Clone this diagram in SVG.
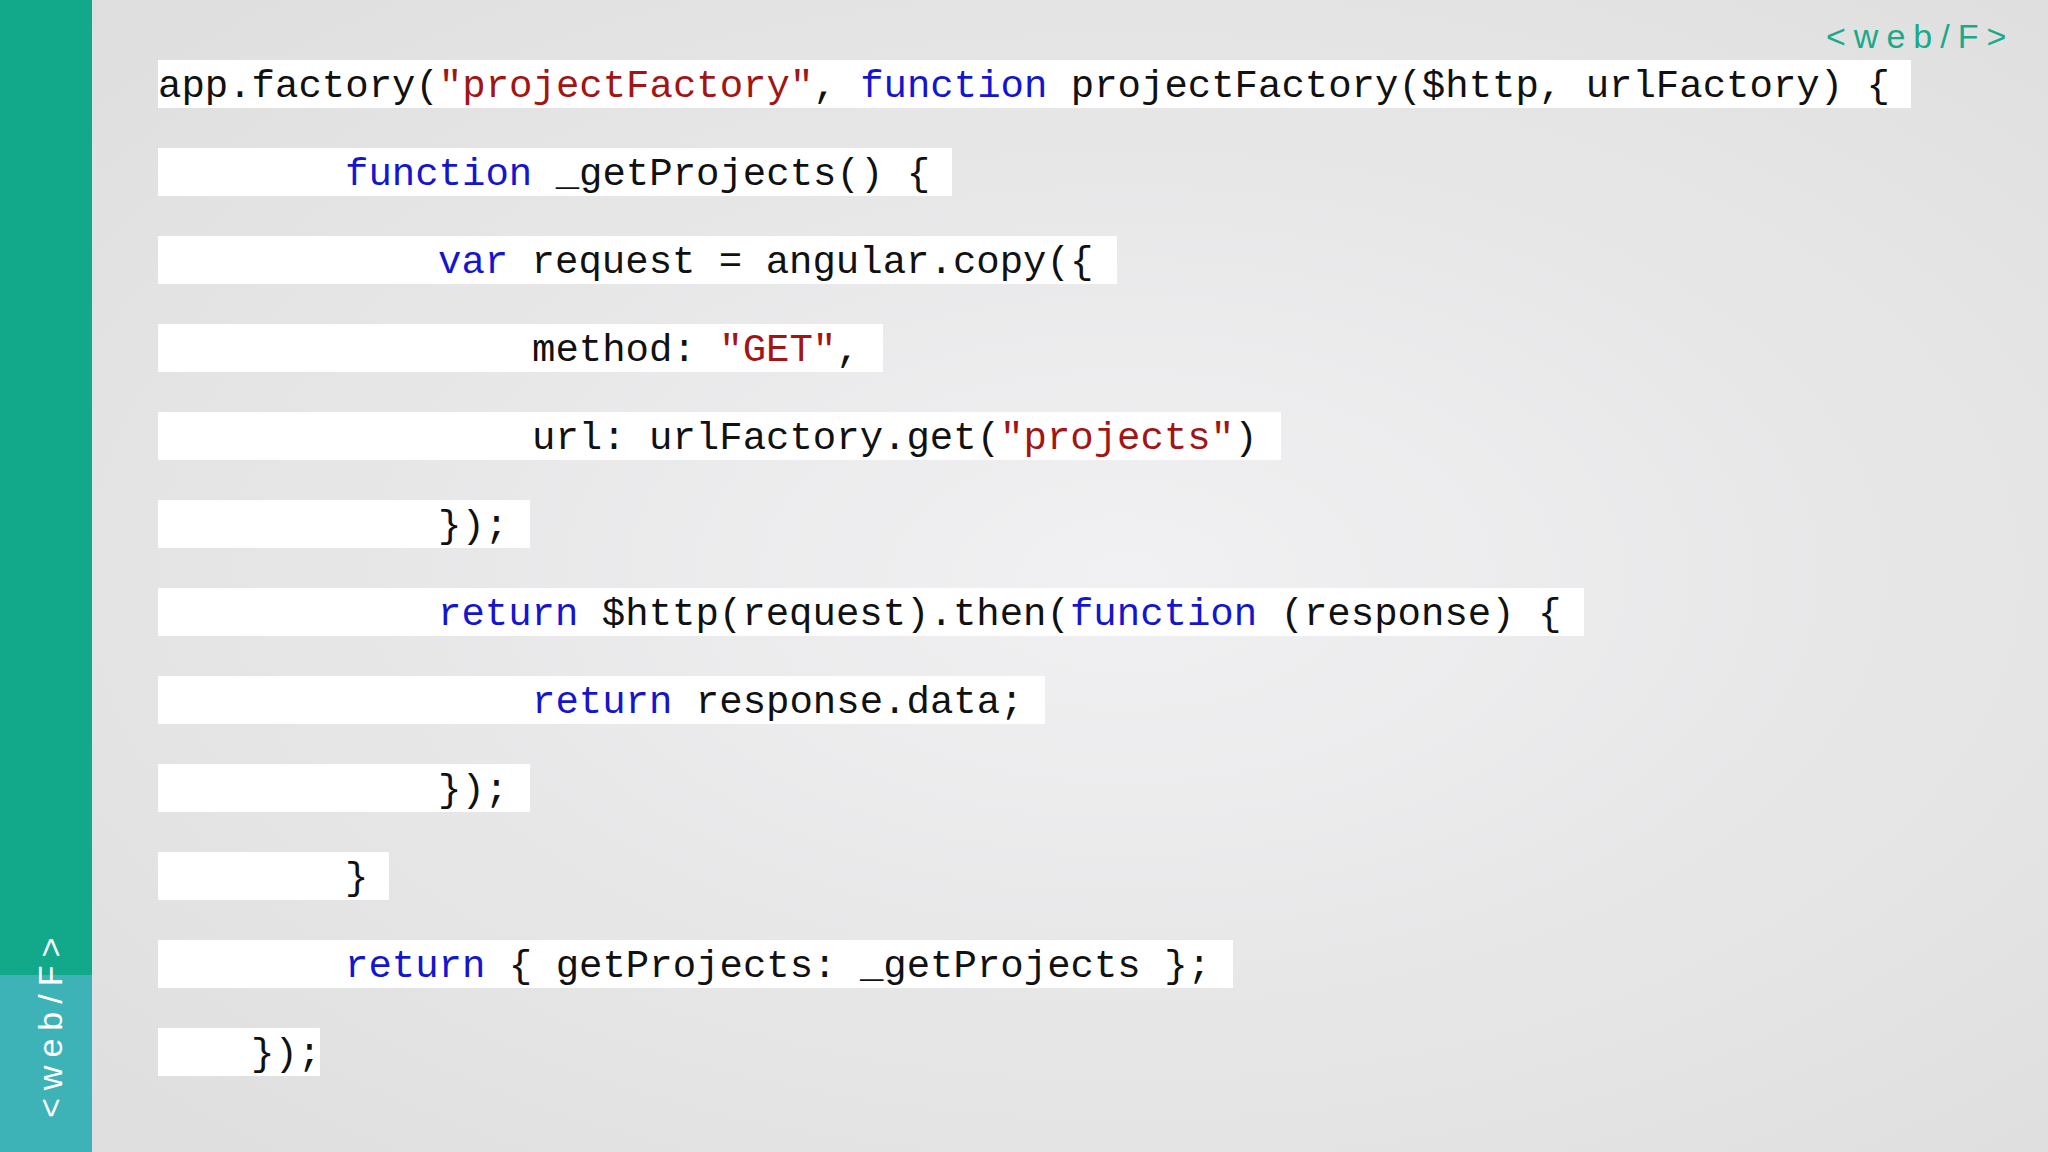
<svg xmlns="http://www.w3.org/2000/svg" width="2048" height="1152" viewBox="0 0 2048 1152">
<defs>
<radialGradient id="bg" cx="0.55" cy="0.5" r="0.8">
<stop offset="0" stop-color="#f1f0f2"/>
<stop offset="1" stop-color="#dcdcdc"/>
</radialGradient>
<style>
.hl{fill:#ffffff}
.c{font-family:"Liberation Mono","DejaVu Sans Mono",monospace;font-size:39px;fill:#111}
.k{fill:#1515d0}
.s{fill:#a31515}
.logo{font-family:"Liberation Sans","DejaVu Sans",sans-serif;font-size:34px;letter-spacing:8px}
</style>
</defs>
<rect width="2048" height="1152" fill="url(#bg)"/>
<g id="sidebar">
<rect x="0" y="0" width="92" height="975" fill="#12a98a"/>
<rect x="0" y="975" width="92" height="177" fill="#3db3b7"/>
<text class="logo" fill="#ffffff" transform="translate(62,1118) rotate(-90)">&lt;web/F&gt;</text>
</g>
<g id="logo-top">
<text class="logo" x="1826" y="48" fill="#1aaa8a">&lt;web/F&gt;</text>
</g>
<g id="highlights">
<rect class="hl" x="158" y="60" width="1753" height="48"/>
<rect class="hl" x="158" y="148" width="794" height="48"/>
<rect class="hl" x="158" y="236" width="959" height="48"/>
<rect class="hl" x="158" y="324" width="725" height="48"/>
<rect class="hl" x="158" y="412" width="1123" height="48"/>
<rect class="hl" x="158" y="500" width="372" height="48"/>
<rect class="hl" x="158" y="588" width="1426" height="48"/>
<rect class="hl" x="158" y="676" width="887" height="48"/>
<rect class="hl" x="158" y="764" width="372" height="48"/>
<rect class="hl" x="158" y="852" width="231" height="48"/>
<rect class="hl" x="158" y="940" width="1075" height="48"/>
<rect class="hl" x="158" y="1028" width="162" height="48"/>
</g>
<g id="code" class="c">
<text x="158" y="97">app.factory(<tspan class="s">"projectFactory"</tspan>, <tspan class="k">function</tspan> projectFactory($http, urlFactory) {</text>
<text x="345" y="185"><tspan class="k">function</tspan> _getProjects() {</text>
<text x="438" y="273"><tspan class="k">var</tspan> request = angular.copy({</text>
<text x="532" y="361">method: <tspan class="s">"GET"</tspan>,</text>
<text x="532" y="449">url: urlFactory.get(<tspan class="s">"projects"</tspan>)</text>
<text x="438" y="537">});</text>
<text x="438" y="625"><tspan class="k">return</tspan> $http(request).then(<tspan class="k">function</tspan> (response) {</text>
<text x="532" y="713"><tspan class="k">return</tspan> response.data;</text>
<text x="438" y="801">});</text>
<text x="345" y="889">}</text>
<text x="345" y="977"><tspan class="k">return</tspan> { getProjects: _getProjects };</text>
<text x="251" y="1065">});</text>
</g>
</svg>
